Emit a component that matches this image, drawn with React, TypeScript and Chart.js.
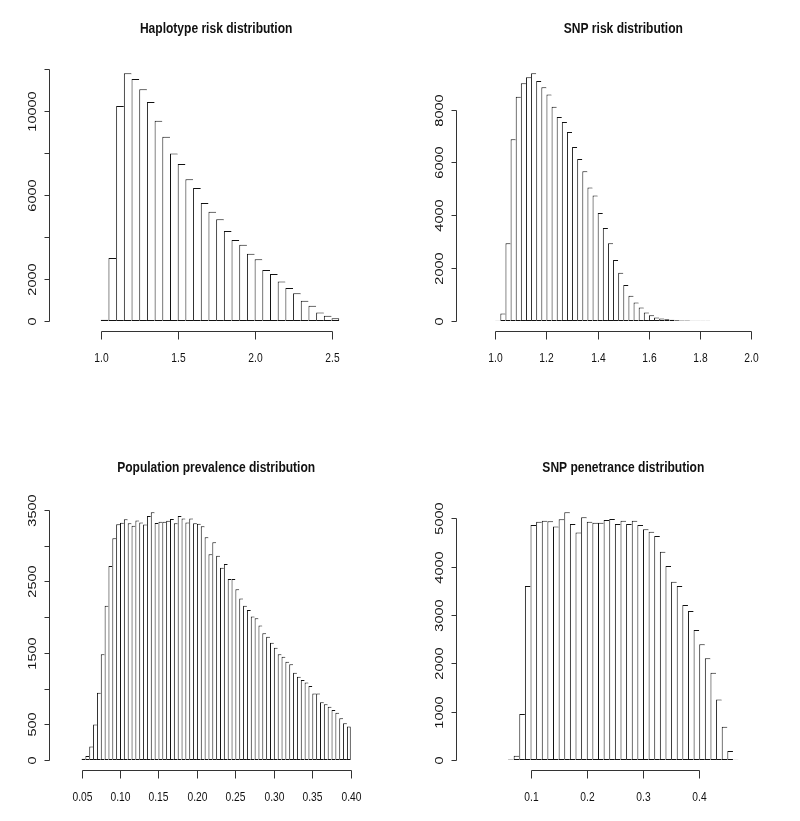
import React, { useEffect, useRef } from 'react';
import { Chart, registerables } from 'chart.js';

Chart.register(...registerables);

// ---------- Data ----------
// Haplotype risk distribution (bins of 0.05 starting at 1.00)
const hapBreakStart = 1.0;
const hapBreakWidth = 0.05;
const hapCounts = [
  60, 2990, 10220, 11780, 11510, 11020, 10410, 9520, 8760, 7960, 7470, 6740, 6320, 5610, 5190, 4840,
  4280, 3850, 3620, 3190, 2930, 2420, 2230, 1880, 1560, 1310, 960, 720, 400, 240, 130,
];
const hapXTicks = [1.0, 1.5, 2.0, 2.5];
const hapXLabels = ['1.0', '1.5', '2.0', '2.5'];
const hapYTicks = [0, 2000, 4000, 6000, 8000, 10000, 12000];
const hapYLabels = ['0', '2000', '', '6000', '', '10000', ''];

// SNP risk distribution (bins of 0.02 starting at 1.00)
const snpRiskBreakStart = 1.0;
const snpRiskBreakWidth = 0.02;
const snpRiskCounts = [
  10, 280, 2940, 6870, 8480, 8990, 9220, 9370, 9080, 8840, 8570, 8100, 7720, 7530, 7150, 6580,
  6130, 5660, 5050, 4750, 4080, 3520, 2940, 2300, 1820, 1360, 950, 700, 510, 320, 215, 130,
  90, 60, 40, 26, 16, 12, 9, 7, 5, 4,
];
const snpRiskXTicks = [1.0, 1.2, 1.4, 1.6, 1.8, 2.0];
const snpRiskXLabels = ['1.0', '1.2', '1.4', '1.6', '1.8', '2.0'];
const snpRiskYTicks = [0, 2000, 4000, 6000, 8000];
const snpRiskYLabels = ['0', '2000', '4000', '6000', '8000'];

// Population prevalence distribution (bins of 0.005 starting at 0.05)
const prevBreakStart = 0.05;
const prevBreakWidth = 0.005;
const prevCounts = [
  19, 56, 190, 499, 943, 1480, 2160, 2716, 3104, 3300, 3320, 3370, 3314, 3278, 3351, 3323,
  3295, 3414, 3466, 3318, 3334, 3334, 3348, 3372, 3314, 3414, 3381, 3325, 3381, 3314, 3306, 3272,
  3118, 2878, 3046, 2859, 2690, 2744, 2532, 2532, 2389, 2260, 2160, 2098, 2010, 1983, 1881, 1775,
  1727, 1640, 1570, 1479, 1445, 1377, 1340, 1223, 1167, 1122, 1087, 1035, 933, 933, 810, 782,
  747, 700, 663, 586, 515, 470,
];
const prevXTicks = [0.05, 0.1, 0.15, 0.2, 0.25, 0.3, 0.35, 0.4];
const prevXLabels = ['0.05', '0.10', '0.15', '0.20', '0.25', '0.30', '0.35', '0.40'];
const prevYTicks = [0, 500, 1000, 1500, 2000, 2500, 3000, 3500];
const prevYLabels = ['0', '500', '', '1500', '', '2500', '', '3500'];

// SNP penetrance distribution (bins of 0.01 starting at 0.06)
const penBreakStart = 0.06;
const penBreakWidth = 0.01;
const penCounts = [
  14, 90, 952, 3600, 4862, 4931, 4952, 4938, 4828, 4980, 5124, 4883, 4704, 5021, 4931, 4910,
  4910, 4966, 4986, 4883, 4952, 4883, 4952, 4862, 4773, 4724, 4635, 4310, 4014, 3690, 3600, 3207,
  3083, 2690, 2393, 2104, 1807, 1255, 690, 186, 5,
];
const penXTicks = [0.1, 0.2, 0.3, 0.4];
const penXLabels = ['0.1', '0.2', '0.3', '0.4'];
const penYTicks = [0, 1000, 2000, 3000, 4000, 5000];
const penYLabels = ['0', '1000', '2000', '3000', '4000', '5000'];

// ---------- Layout / style ----------
const PAGE_W = 800;
const PAGE_H = 821;
const X_LABEL_FONT = '13.5px "Liberation Sans", Arial, sans-serif';
const X_LABEL_SQUEEZE = 0.76;
const Y_LABEL_FONT = '14.5px "Liberation Sans", Arial, sans-serif';
const Y_LABEL_SQUEEZE = 0.76;
const TITLE_FONT = 'bold 14px "Liberation Sans", Arial, sans-serif';
const TITLE_SQUEEZE = 0.86;
const INK = '#111111';

type Panel = {
  title: string;
  breakStart: number;
  breakWidth: number;
  counts: number[];
  xTicks: number[];
  xLabels: string[];
  yTicks: number[];
  yLabels: string[];
  xMin: number;
  xMax: number;
  canvas: { x: number; y: number; w: number; h: number };
  area: { left: number; top: number; right: number; bottom: number };
};

const panels: Panel[] = [
  {
    title: 'Haplotype risk distribution',
    breakStart: hapBreakStart, breakWidth: hapBreakWidth, counts: hapCounts,
    xTicks: hapXTicks, xLabels: hapXLabels, yTicks: hapYTicks, yLabels: hapYLabels,
    xMin: 0.94, xMax: 2.56,
    canvas: { x: 0, y: 0, w: 400, h: 410 },
    area: { left: 50, top: 63.4, right: 382.3, bottom: 330.8 },
  },
  {
    title: 'SNP risk distribution',
    breakStart: snpRiskBreakStart, breakWidth: snpRiskBreakWidth, counts: snpRiskCounts,
    xTicks: snpRiskXTicks, xLabels: snpRiskXLabels, yTicks: snpRiskYTicks, yLabels: snpRiskYLabels,
    xMin: 0.96, xMax: 2.04,
    canvas: { x: 400, y: 0, w: 400, h: 410 },
    area: { left: 457.3, top: 63.4, right: 789.3, bottom: 330.8 },
  },
  {
    title: 'Population prevalence distribution',
    breakStart: prevBreakStart, breakWidth: prevBreakWidth, counts: prevCounts,
    xTicks: prevXTicks, xLabels: prevXLabels, yTicks: prevYTicks, yLabels: prevYLabels,
    xMin: 0.036, xMax: 0.414,
    canvas: { x: 0, y: 410, w: 400, h: 411 },
    area: { left: 50, top: 502.4, right: 382.3, bottom: 770 },
  },
  {
    title: 'SNP penetrance distribution',
    breakStart: penBreakStart, breakWidth: penBreakWidth, counts: penCounts,
    xTicks: penXTicks, xLabels: penXLabels, yTicks: penYTicks, yLabels: penYLabels,
    xMin: 0.0436, xMax: 0.4864,
    canvas: { x: 400, y: 410, w: 400, h: 411 },
    area: { left: 457.3, top: 502.4, right: 789.3, bottom: 770 },
  },
];

function drawSqueezedText(
  ctx: CanvasRenderingContext2D,
  text: string,
  x: number,
  y: number,
  font: string,
  squeeze: number,
  rotate: boolean,
  baseline: CanvasTextBaseline,
) {
  if (!text) return;
  ctx.save();
  ctx.translate(x, y);
  ctx.scale(squeeze, 1);
  if (rotate) ctx.rotate(-Math.PI / 2);
  ctx.font = font;
  ctx.fillStyle = INK;
  ctx.textAlign = 'center';
  ctx.textBaseline = baseline;
  ctx.fillText(text, 0, 0);
  ctx.restore();
}

const rAxesPlugin = {
  id: 'rAxes',
  afterDraw(chart: any, _args: any, opts: any) {
    const ctx: CanvasRenderingContext2D = chart.ctx;
    const { left, right, top, bottom } = chart.chartArea;
    const xs = chart.scales.x;
    const ys = chart.scales.y;
    ctx.save();
    ctx.strokeStyle = '#333';
    ctx.lineWidth = 1;

    // x axis (R style: line spans first to last tick)
    const ya = Math.round(bottom) + 0.5;
    const xp = (opts.xTicks as number[]).map((v) => Math.round(xs.getPixelForValue(v)) + 0.5);
    ctx.beginPath();
    ctx.moveTo(xp[0], ya);
    ctx.lineTo(xp[xp.length - 1], ya);
    xp.forEach((p) => {
      ctx.moveTo(p, ya);
      ctx.lineTo(p, ya + 8);
    });
    ctx.stroke();
    xp.forEach((p, i) =>
      drawSqueezedText(ctx, opts.xLabels[i], p, ya + 27, X_LABEL_FONT, X_LABEL_SQUEEZE, false, 'middle'),
    );

    // y axis
    const xa = Math.round(left) - 0.5;
    const yp = (opts.yTicks as number[]).map((v) => Math.round(ys.getPixelForValue(v)) + 0.5);
    ctx.beginPath();
    ctx.moveTo(xa, yp[0]);
    ctx.lineTo(xa, yp[yp.length - 1]);
    yp.forEach((p) => {
      ctx.moveTo(xa, p);
      ctx.lineTo(xa - 5, p);
    });
    ctx.stroke();
    yp.forEach((p, i) =>
      drawSqueezedText(ctx, opts.yLabels[i], xa - 17, p, Y_LABEL_FONT, Y_LABEL_SQUEEZE, true, 'middle'),
    );

    // title
    drawSqueezedText(ctx, opts.title, (left + right) / 2, top - 30, TITLE_FONT, TITLE_SQUEEZE, false, 'alphabetic');
    ctx.restore();
  },
};

function HistPanel({ panel }: { panel: Panel }) {
  const ref = useRef<HTMLCanvasElement | null>(null);
  useEffect(() => {
    if (!ref.current) return;
    const { canvas, area } = panel;
    const yMax = Math.max(...panel.counts);
    const n = panel.counts.length;
    const points = panel.counts.map((c, i) => ({
      x: panel.breakStart + panel.breakWidth * (i + 0.5),
      y: c,
    }));
    const chart = new Chart(ref.current, {
      type: 'bar',
      data: {
        datasets: [
          {
            data: points as any,
            backgroundColor: '#ffffff',
            borderColor: INK,
            borderWidth: ((c: any) => ({ top: 1, bottom: 1, left: 1, right: c.dataIndex === n - 1 ? 1 : 0 })) as any,
            borderSkipped: false,
            inflateAmount: 0,
            barPercentage: 1,
            categoryPercentage: 1,
          } as any,
        ],
      },
      options: {
        responsive: false,
        animation: false,
        events: [],
        layout: {
          padding: {
            left: area.left - canvas.x,
            top: area.top - canvas.y,
            right: canvas.x + canvas.w - area.right,
            bottom: canvas.y + canvas.h - area.bottom,
          },
        },
        plugins: {
          legend: { display: false },
          tooltip: { enabled: false },
          title: { display: false },
          rAxes: {
            title: panel.title,
            xTicks: panel.xTicks,
            xLabels: panel.xLabels,
            yTicks: panel.yTicks,
            yLabels: panel.yLabels,
          },
        } as any,
        scales: {
          x: {
            type: 'linear',
            min: panel.xMin,
            max: panel.xMax,
            display: false,
            afterBuildTicks: (s: any) => {
              s.ticks = panel.xTicks.map((v) => ({ value: v }));
            },
          },
          y: {
            type: 'linear',
            min: -0.04 * yMax,
            max: 1.04 * yMax,
            display: false,
          },
        },
      },
      plugins: [rAxesPlugin],
    });
    return () => chart.destroy();
  }, [panel]);
  const { canvas } = panel;
  return (
    <canvas
      ref={ref}
      width={canvas.w}
      height={canvas.h}
      style={{ position: 'absolute', left: canvas.x, top: canvas.y, width: canvas.w, height: canvas.h, display: 'block' }}
    />
  );
}

export default function App() {
  return (
    <div
      style={{
        position: 'absolute',
        left: 0,
        top: 0,
        width: PAGE_W,
        height: PAGE_H,
        background: '#ffffff',
        overflow: 'hidden',
      }}
    >
      {panels.map((p) => (
        <HistPanel key={p.title} panel={p} />
      ))}
    </div>
  );
}
